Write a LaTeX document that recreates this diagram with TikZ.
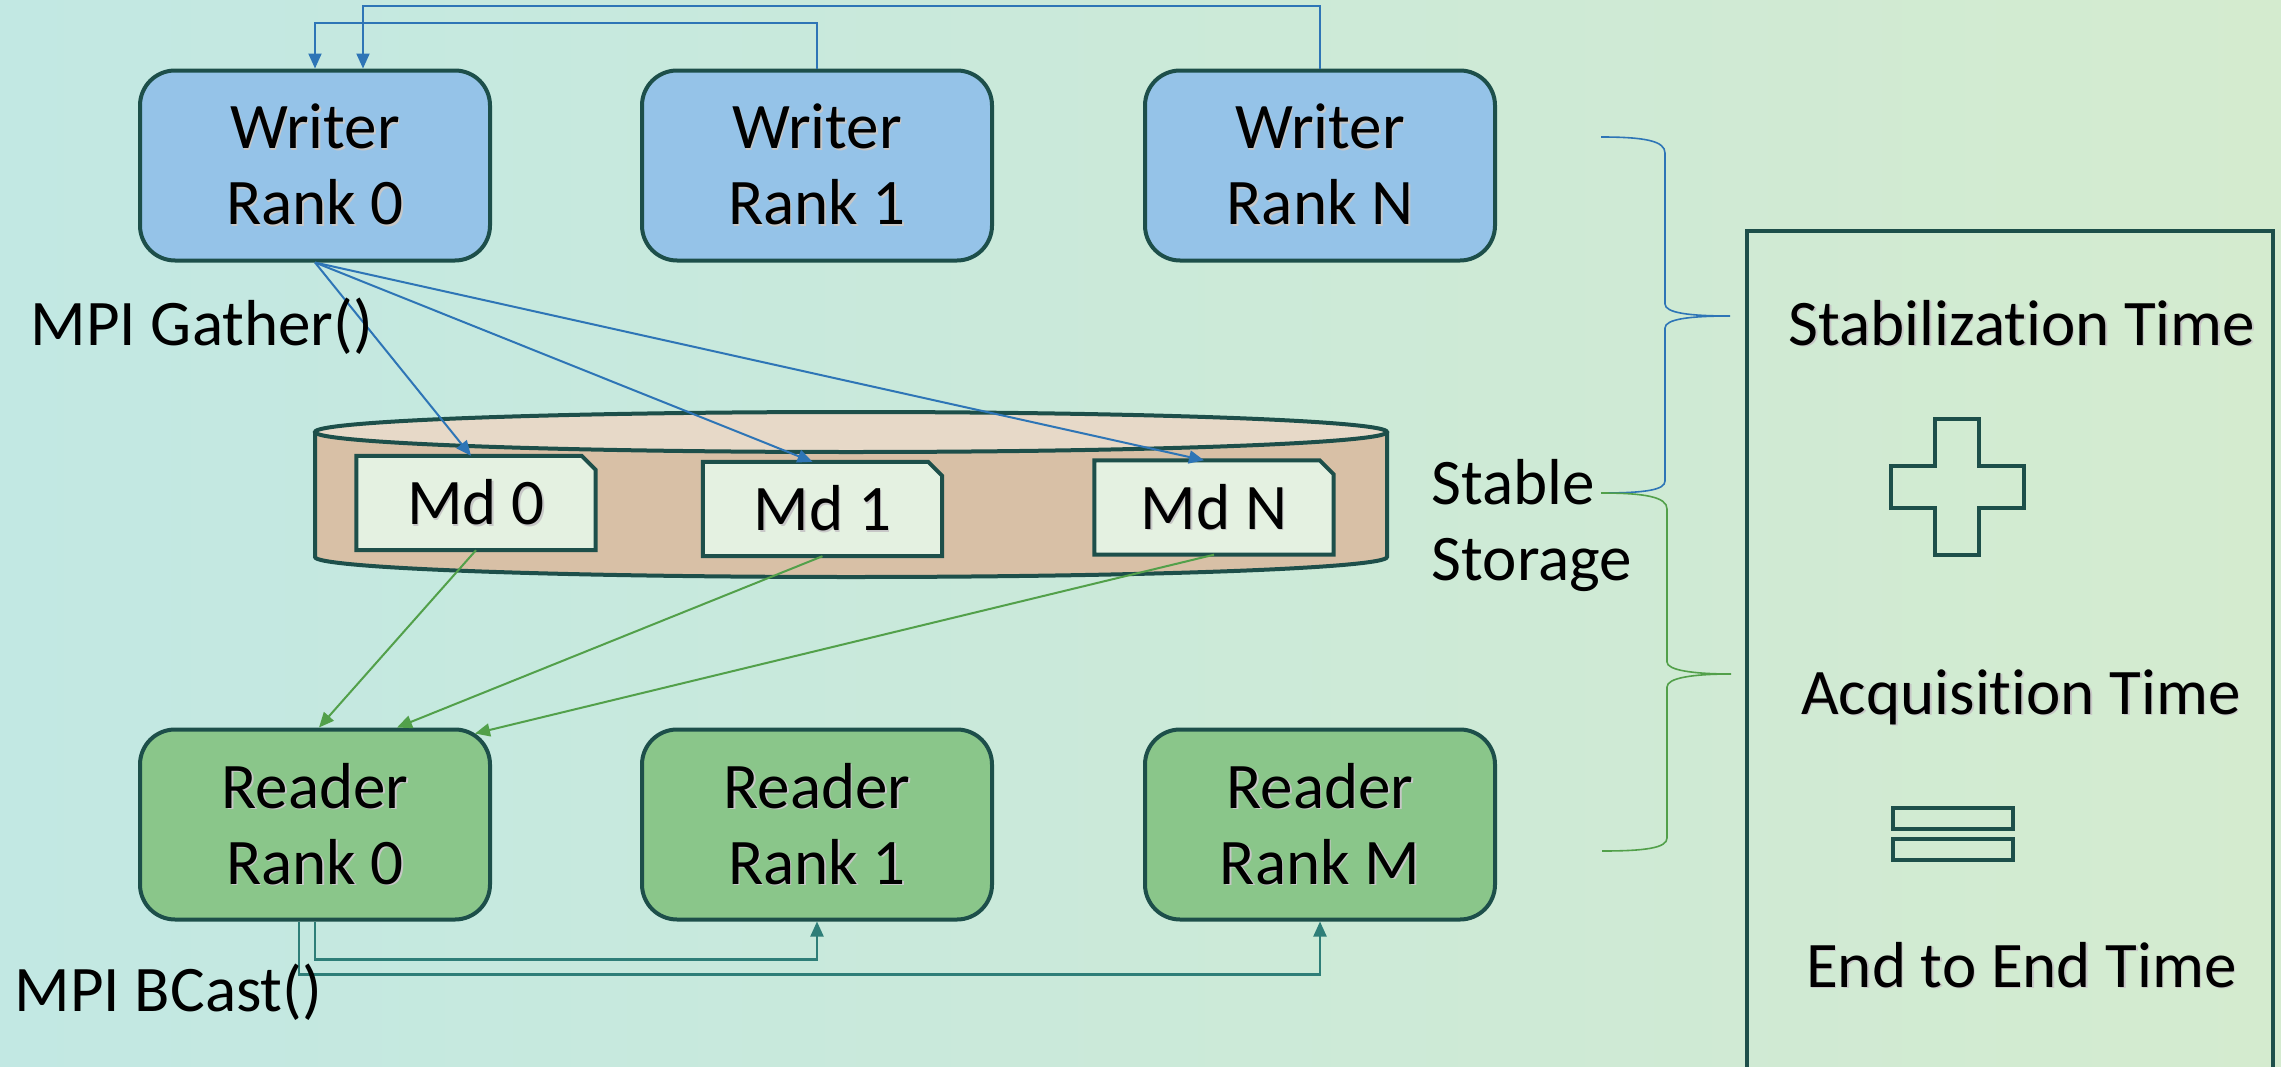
\documentclass[tikz,border=0pt]{standalone}
\usepackage{fontspec}
\setmainfont{Carlito}[Ligatures=NoCommon]
\usetikzlibrary{arrows.meta}
\pgfdeclarelayer{back}
\pgfsetlayers{back,main}

\definecolor{bgL}{HTML}{C2E8E3}
\definecolor{bgR}{HTML}{D4EBCF}
\definecolor{wrFill}{HTML}{95C3E8}
\definecolor{rdFill}{HTML}{8AC68A}
\definecolor{dk}{HTML}{1D4F4A}
\definecolor{cylSide}{HTML}{D8C0A6}
\definecolor{cylTop}{HTML}{E7D9C8}
\definecolor{mdFill}{HTML}{E4F1E1}
\definecolor{blu}{HTML}{2E75B6}
\definecolor{grn}{HTML}{52A04A}
\definecolor{tl}{HTML}{2E7E78}

% text with a soft drop shadow
\newcommand\shd[1]{\makebox[0pt][l]{\kern0.45pt\raisebox{-0.45pt}{\color{black!22}#1}}#1}

\begin{document}
\begin{tikzpicture}[x=0.1mm,y=-0.1mm,
  lbl/.style={font=\fontsize{18.5}{21.6}\selectfont, align=center, inner sep=0pt},
  plain/.style={font=\fontsize{18.5}{21.6}\selectfont, inner sep=0pt},
  rank/.style={lbl, rectangle, rounded corners=3.5mm, draw=dk, line width=0.4mm,
               minimum width=35mm, minimum height=19mm},
  writer/.style={rank, fill=wrFill},
  reader/.style={rank, fill=rdFill},
  md/.style={lbl, minimum width=23.8mm, minimum height=9.3mm},
  mdshape/.style={fill=mdFill, draw=dk, line width=0.4mm},
  tip/.style={-{Triangle[length=1.5mm,width=1.3mm]}},
  gather/.style={tip, draw=blu, line width=0.2mm},
  toread/.style={tip, draw=grn, line width=0.2mm},
  bcast/.style={tip, draw=tl, line width=0.22mm},
  frame/.style={draw=dk, line width=0.4mm},
  sym/.style={draw=dk, line width=0.35mm},
  brace/.style={line width=0.16mm}
]
\useasboundingbox (0,0) rectangle (2281,1067);

\begin{pgfonlayer}{back}
  % backdrop
  \shade[left color=bgL, right color=bgR] (0,0) rectangle (2281,1067);
  % storage cylinder
  \fill[cylSide] (315,432) -- (315,557)
     arc[start angle=180, end angle=360, x radius=53.6mm, y radius=2mm]
     -- (1387,432) -- cycle;
  \draw[dk, line width=0.4mm] (315,432) -- (315,557)
     arc[start angle=180, end angle=360, x radius=53.6mm, y radius=2mm]
     -- (1387,432);
  \draw[dk, fill=cylTop, line width=0.4mm] (851,432) ellipse[x radius=53.6mm, y radius=2mm];
\end{pgfonlayer}

% writers
\node[writer] (wr0) at (315,165.5) {\shd{Writer}\\\shd{Rank 0}};
\node[writer] (wr1) at (817,165.5) {\shd{Writer}\\\shd{Rank 1}};
\node[writer] (wrN) at (1320,165.5) {\shd{Writer}\\\shd{Rank N}};

% readers
\node[reader] (rd0) at (315,824.5) {\shd{Reader}\\\shd{Rank 0}};
\node[reader] (rd1) at (817,824.5) {\shd{Reader}\\\shd{Rank 1}};
\node[reader] (rdM) at (1320,824.5) {\shd{Reader}\\\shd{Rank M}};

% metadata blocks
\node[md] (md0) at (476,503) {\shd{Md 0}};
\node[md] (md1) at (822.5,509) {\shd{Md 1}};
\node[md] (mdN) at (1214,507.5) {\shd{Md N}};
\begin{pgfonlayer}{back}
  \foreach \m in {md0,md1,mdN}
    \draw[mdshape] (\m.south west) -- (\m.north west) -- ([xshift=-1.4mm]\m.north east)
      -- ([yshift=-1.4mm]\m.north east) -- (\m.south east) -- cycle;
\end{pgfonlayer}

% writer ranks report to rank 0
\draw[gather] (wr1.north) -- ++(0,-46) -| (wr0.north);
\draw[gather] (wrN.north) -- ++(0,-63) -| ([xshift=4.8mm]wr0.north);

% gather onto storage
\draw[gather] (wr0.south) -- ([xshift=-0.5mm]md0.north);
\draw[gather] (wr0.south) -- ([xshift=-1mm]md1.north);
\draw[gather] (wr0.south) -- ([xshift=-1mm]mdN.north);

% reader rank 0 fetches metadata
\draw[toread] (md0.south) -- ([xshift=0.4mm]rd0.north);
\draw[toread] (md1.south) -- ([xshift=8.2mm]rd0.north);
\draw[toread] (mdN.south) -- ([xshift=16mm,yshift=-0.6mm]rd0.north);

% broadcast to other readers
\draw[bcast] (rd0.south) -- ++(0,38) -| (rd1.south);
\draw[bcast] ([xshift=-1.6mm]rd0.south) -- ++(0,53) -| (rdM.south);

% labels
\node[plain, anchor=base west] (gathLbl) at (30,345) {MPI Gather()};
\node[plain, anchor=base west] (bcastLbl) at (14,1011) {MPI BCast()};
\node[plain, anchor=base west] (stLbl1) at (1431,504) {Stable};
\node[plain, anchor=base west] (stLbl2) at (1431,580) {Storage};

% braces
\draw[brace, blu] (1601,137) .. controls (1645,137) and (1665,141) .. (1665,153)
  -- (1665,304) .. controls (1665,313) and (1690,316) .. (1730,316)
  .. controls (1690,316) and (1665,319) .. (1665,328)
  -- (1665,481) .. controls (1665,490) and (1645,493) .. (1601,493);
\draw[brace, grn] (1601,493) .. controls (1645,493) and (1667,497) .. (1667,509)
  -- (1667,662) .. controls (1667,670) and (1692,674) .. (1731,674)
  .. controls (1692,674) and (1667,678) .. (1667,687)
  -- (1667,838) .. controls (1667,848) and (1645,851) .. (1602,851);

% summary panel
\begin{scope}
  \clip (0,0) rectangle (2281,1067);
  \draw[frame] (1747,1090) -- (1747,231) -- (2273,231) -- (2273,1090);
\end{scope}
\node[plain, anchor=base] (tStab) at (2022,345) {\shd{Stabilization Time}};
\draw[sym] (1935,419) -- (1979,419) -- (1979,466) -- (2024,466) -- (2024,508)
  -- (1979,508) -- (1979,555) -- (1935,555) -- (1935,508) -- (1891,508)
  -- (1891,466) -- (1935,466) -- cycle;
\node[plain, anchor=base] (tAcq) at (2021,714) {\shd{Acquisition Time}};
\draw[sym] (1893,808) rectangle (2013,829);
\draw[sym] (1893,839) rectangle (2013,860);
\node[plain, anchor=base] (tE2E) at (2021.5,987) {\shd{End to End Time}};
\end{tikzpicture}
\end{document}
